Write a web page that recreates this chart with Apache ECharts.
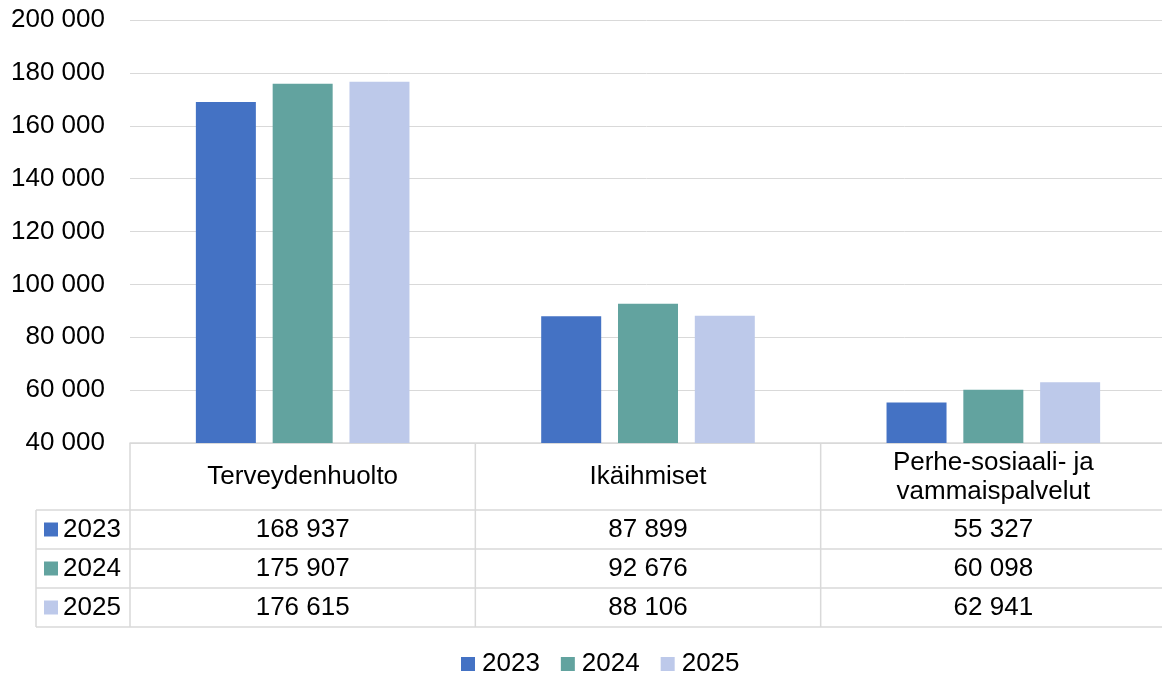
<!DOCTYPE html>
<html>
<head>
<meta charset="utf-8">
<script src="https://cdn.jsdelivr.net/npm/echarts@6/dist/echarts.min.js"></script>
<style>
  html, body { margin: 0; padding: 0; background: #fff; }
  #chart { width: 1162px; height: 675px; }
</style>
</head>
<body>
<div id="chart"></div>
<script>
// Data
const categories = ["Terveydenhuolto", "Ikäihmiset", "Perhe-sosiaali- ja\nvammaispalvelut"];
const years = ["2023", "2024", "2025"];
const values2023 = [168937, 87899, 55327];
const values2024 = [175907, 92676, 60098];
const values2025 = [176615, 88106, 62941];
const yTicks = { min: 40000, max: 200000, interval: 20000 };

const colors = ["#4472C4", "#62A39F", "#BDC9EA"];
const seriesValues = [values2023, values2024, values2025];
const FONT = "'Liberation Sans', Arial, sans-serif";
const FS = 26;
const LINE = "#d9d9d9";

// "168937" -> "168 937"
function fmt(v) {
  return String(v).replace(/\B(?=(\d{3})+(?!\d))/g, " ");
}

const chart = echarts.init(document.getElementById("chart"));

chart.setOption({
  animation: false,
  textStyle: { fontFamily: FONT },
  grid: { left: 130, top: 20, right: -4, bottom: 232, outerBoundsMode: "none" },
  legend: {
    data: years,
    top: 646,
    left: 456,
    itemWidth: 14,
    itemHeight: 14,
    itemGap: 21,
    icon: "rect",
    textStyle: { fontSize: FS, color: "#000", fontFamily: FONT, padding: [0, 0, 0, 2] }
  },
  xAxis: {
    type: "category",
    data: categories,
    axisTick: { show: false },
    axisLine: { lineStyle: { color: LINE, width: 1.5 } },
    axisLabel: {
      margin: 34,
      verticalAlign: "middle",
      lineHeight: 29,
      fontSize: FS,
      color: "#000",
      interval: 0
    }
  },
  yAxis: {
    type: "value",
    min: yTicks.min,
    max: yTicks.max,
    interval: yTicks.interval,
    axisLine: { show: false },
    axisTick: { show: false },
    splitLine: { lineStyle: { color: LINE, width: 1 } },
    axisLabel: { margin: 25, fontSize: FS, color: "#000", formatter: (v) => fmt(v) }
  },
  series: years.map((y, i) => ({
    name: y,
    type: "bar",
    data: seriesValues[i],
    barWidth: 60,
    barGap: "28%",
    itemStyle: { color: colors[i] }
  }))
});

// Data table under the axis, placed from the chart's own scales
function drawTable() {
  const centers = categories.map((c, i) => chart.convertToPixel({ xAxisIndex: 0 }, i));
  const band = centers[1] - centers[0];
  const bounds = [centers[0] - band / 2].concat(centers.map((c) => c + band / 2));
  const yAxisPx = chart.convertToPixel({ yAxisIndex: 0 }, yTicks.min);
  const headerBottom = yAxisPx + 67;
  const rowH = 39;
  const tableLeft = 36;
  const rightEdge = bounds[bounds.length - 1];
  const tableBottom = headerBottom + rowH * years.length;

  const els = [];
  const line = (x1, y1, x2, y2) => els.push({
    type: "line",
    shape: { x1, y1, x2, y2 },
    style: { stroke: LINE, lineWidth: 1.5 },
    silent: true
  });

  bounds.forEach((x) => line(x, yAxisPx, x, tableBottom));
  line(tableLeft, headerBottom, tableLeft, tableBottom);
  for (let r = 0; r <= years.length; r++) {
    const y = headerBottom + r * rowH;
    line(tableLeft, y, rightEdge, y);
  }

  years.forEach((y, r) => {
    const cy = headerBottom + r * rowH + rowH / 2;
    els.push({
      type: "rect",
      shape: { x: 44, y: cy - 7, width: 14, height: 14 },
      style: { fill: colors[r] },
      silent: true
    });
    els.push({
      type: "text",
      x: 63,
      y: cy,
      style: { text: y, fontSize: FS, fill: "#000", fontFamily: FONT, verticalAlign: "middle", align: "left" },
      silent: true
    });
    seriesValues[r].forEach((v, c) => {
      els.push({
        type: "text",
        x: centers[c],
        y: cy,
        style: { text: fmt(v), fontSize: FS, fill: "#000", fontFamily: FONT, verticalAlign: "middle", align: "center" },
        silent: true
      });
    });
  });

  chart.setOption({ graphic: { elements: els } });
}

drawTable();
</script>
</body>
</html>
